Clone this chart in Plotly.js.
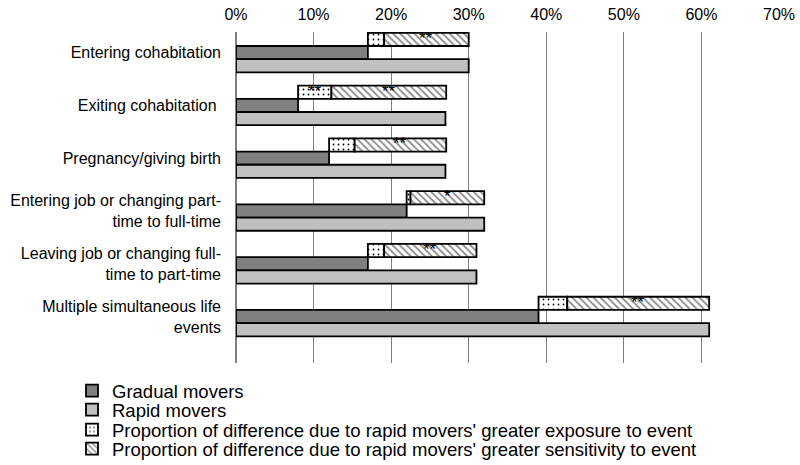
<!DOCTYPE html>
<html>
<head>
<meta charset="utf-8">
<script src="https://cdn.plot.ly/plotly-3.0.1.min.js"></script>
<style>html,body{margin:0;padding:0;background:#fff;}#chart{width:800px;height:465px;}</style>
</head>
<body>
<div id="chart"></div>
<script>
const categories = [
  "Entering cohabitation",
  "Exiting cohabitation ",
  "Pregnancy/giving birth",
  "Entering job or changing part-<br>time to full-time",
  "Leaving job or changing full-<br>time to part-time",
  "Multiple simultaneous life<br>events"
];
const gradual = [17, 8, 12, 22, 17, 39];
const rapid = [30, 27, 27, 32, 31, 61];
const exposure = [2.1, 4.3, 3.3, 0.5, 2.1, 3.7];
const sensitivity = [10.9, 14.8, 11.8, 9.5, 11.9, 18.3];
const starsExposure = ["", "**", "", "", "", ""];
const starsSensitivity = ["**", "**", "**", "*", "**", "**"];
const seriesNames = [
  "Gradual movers",
  "Rapid movers",
  "Proportion of difference due to rapid movers' greater exposure to event",
  "Proportion of difference due to rapid movers' greater sensitivity to event"
];

const idx = categories.map((_, i) => i);
const off = 0.25, w = 0.25;
const lineStyle = {color: "#000", width: 1.8};
const fam = "Liberation Sans, Arial, sans-serif";
const font = {family: fam, size: 16, color: "#000"};

const traces = [
  {type: "bar", orientation: "h", name: seriesNames[0], x: gradual, y: idx, width: w, legend: "legend",
   marker: {color: "#808080", line: lineStyle}, hoverinfo: "skip"},
  {type: "bar", orientation: "h", name: seriesNames[1], x: rapid, y: idx.map(i => i + off), width: w, legend: "legend2",
   marker: {color: "#c0c0c0", line: lineStyle}, hoverinfo: "skip"},
  {type: "bar", orientation: "h", name: seriesNames[2], legend: "legend3",
   x: exposure, base: gradual, y: idx.map(i => i - off), width: w,
   marker: {color: "#fff", line: lineStyle,
            pattern: {shape: ".", fgcolor: "#000", bgcolor: "#fff", size: 5, solidity: 0.1}}, hoverinfo: "skip"},
  {type: "bar", orientation: "h", name: seriesNames[3], legend: "legend4",
   x: sensitivity, base: gradual.map((g, i) => g + exposure[i]), y: idx.map(i => i - off), width: w,
   marker: {color: "#fff", line: lineStyle,
            pattern: {shape: "\\", fgcolor: "#8c8c8c", bgcolor: "#fff", size: 5, solidity: 0.35}}, hoverinfo: "skip"}
];

const annotations = [];
const starFont = {family: fam, size: 17, color: "#000"};
idx.forEach(i => {
  if (starsExposure[i]) annotations.push({x: gradual[i] + exposure[i] / 2, y: i - off, text: starsExposure[i],
    showarrow: false, yshift: 1, font: starFont});
  if (starsSensitivity[i]) annotations.push({x: gradual[i] + exposure[i] + sensitivity[i] / 2, y: i - off, text: starsSensitivity[i],
    showarrow: false, yshift: 1, font: starFont});
});

const W = 800, H = 465, mL = 236, mR = 21, mT = 32, mB = 102;
const pw = W - mL - mR, ph = H - mT - mB;
const legendRowsPx = [391, 410, 430, 449];
function mkLegend(k) {
  return {xref: "paper", yref: "paper", x: (72 - mL) / pw, xanchor: "left",
          y: (H - mB - legendRowsPx[k]) / ph, yanchor: "middle", bgcolor: "rgba(0,0,0,0)",
          font: {family: fam, size: 18.5, color: "#000"}, itemwidth: 30, borderwidth: 0};
}

const layout = {
  width: W, height: H,
  margin: {l: mL, r: mR, t: mT, b: mB, pad: 0, autoexpand: false},
  paper_bgcolor: "#fff", plot_bgcolor: "#fff",
  font: font,
  barmode: "overlay",
  showlegend: true,
  legend: mkLegend(0), legend2: mkLegend(1), legend3: mkLegend(2), legend4: mkLegend(3),
  xaxis: {side: "top", range: [0, 70], dtick: 10, ticksuffix: "%", showgrid: true,
          gridcolor: "#808080", gridwidth: 1.2, zeroline: true, zerolinecolor: "#808080", zerolinewidth: 1.2,
          showline: false, ticks: "", ticklabelstandoff: 8, tickfont: font, fixedrange: true, automargin: false},
  yaxis: {range: [5.88, -0.39], tickvals: idx, ticktext: categories, showgrid: false, zeroline: false,
          showline: false, ticks: "", ticklabelstandoff: 14, tickfont: font, fixedrange: true, automargin: false},
  annotations: annotations
};

Plotly.newPlot("chart", traces, layout, {displayModeBar: false, staticPlot: true});
</script>
</body>
</html>
